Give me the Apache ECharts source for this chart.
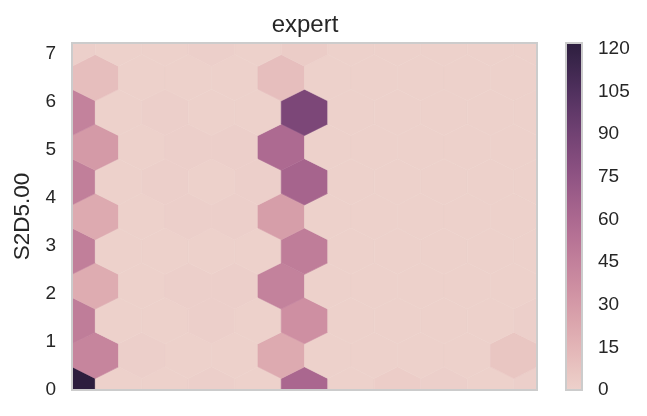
<!DOCTYPE html>
<html>
<head>
<meta charset="utf-8">
<script src="https://cdn.jsdelivr.net/npm/echarts@6/dist/echarts.min.js"></script>
<style type="text/css">
    html, body { margin: 0; padding: 0; background: #fff; }
    div.mychart { width: 647px; height: 416px; }
</style>
</head>
<body>
<div id="main" class="mychart"></div>
<script>
// hexbin counts, one array per hex row from bottom (row 0) to top (row 10)
// even rows sit on whole columns (11 cells), odd rows on half columns (10 cells)
var hexRow0  = [122, 0, 0, 1, 0, 61, 0, 2, 1, 0, 1];
var hexRow1  = [42, 1, 0, 0, 21, 0, 0, 0, 0, 6];
var hexRow2  = [47, 0, 0, 1, 0, 36, 0, 0, 0, 0, 1];
var hexRow3  = [20, 0, 1, 1, 44, 0, 0, 0, 0, 0];
var hexRow4  = [46, 0, 0, 0, 0, 47, 0, 0, 0, 0, 0];
var hexRow5  = [21, 0, 1, 1, 28, 0, 0, 0, 0, 0];
var hexRow6  = [46, 0, 1, 0, 1, 63, 0, 0, 0, 0, 0];
var hexRow7  = [30, 0, 1, 1, 59, 0, 0, 0, 0, 0];
var hexRow8  = [44, 0, 1, 0, 0, 85, 0, 0, 0, 0, 0];
var hexRow9  = [10, 0, 0, 0, 10, 0, 0, 0, 0, 0];
var hexRow10 = [1, 0, 0, 1, 0, 3, 0, 0, 0, 0, 0];
var hexRows = [hexRow0, hexRow1, hexRow2, hexRow3, hexRow4, hexRow5,
               hexRow6, hexRow7, hexRow8, hexRow9, hexRow10];

var xCols = 10;          // x extent in hex widths
var yMax = 7.22;         // y extent of the plot
var yTicks = [0, 1, 2, 3, 4, 5, 6, 7];
var cbarMax = 122;
var cbarTicks = [0, 15, 30, 45, 60, 75, 90, 105, 120];

// seaborn cubehelix_palette(as_cmap=True)
function cubehelix(t) {
    var x = 0.85 + (0.15 - 0.85) * t;
    var a = 0.8 * x * (1 - x) / 2;
    var phi = 2 * Math.PI * (0.4 * x);
    var c = Math.cos(phi), s = Math.sin(phi);
    var rgb = [
        x + a * (-0.14861 * c + 1.78277 * s),
        x + a * (-0.29227 * c - 0.90649 * s),
        x + a * (1.97294 * c)
    ].map(function (v) { return Math.round(Math.max(0, Math.min(1, v)) * 255); });
    return "rgb(" + rgb.join(",") + ")";
}
var paletteColors = [];
var gradientStops = [];
for (var k = 0; k <= 20; k++) {
    paletteColors.push(cubehelix(k / 20));
    gradientStops.push({ offset: k / 20, color: cubehelix(k / 20) });
}

var rowStep = yMax / 10;
var hexData = [];
hexRows.forEach(function (row, j) {
    row.forEach(function (count, i) {
        hexData.push([j % 2 === 0 ? i : i + 0.5, j * rowStep, count]);
    });
});

// pointy-top hexagon in data units (width 1, height 4/3 of the row step)
var sy = 2 * rowStep;
var hexShape = [[0.5, -sy / 6], [0.5, sy / 6], [0, sy / 3],
                [-0.5, sy / 6], [-0.5, -sy / 6], [0, -sy / 3]];

var textColor = "#262626";
var fontName = "Liberation Sans";

var myChart = echarts.init(document.getElementById("main"));
var option = {
    animation: false,
    title: {
        text: "expert",
        left: 300,
        top: 8,
        textAlign: "center",
        textStyle: { color: textColor, fontFamily: fontName, fontSize: 24, fontWeight: "normal" }
    },
    grid: [
        { left: 72, top: 43, width: 465, height: 347, show: true,
          borderColor: "#cccccc", borderWidth: 2, z: 5 },
        { left: 566, top: 43, width: 16, height: 347, show: true,
          borderColor: "#cccccc", borderWidth: 2, z: 5 }
    ],
    xAxis: [
        { type: "value", gridIndex: 0, min: 0, max: xCols,
          axisLine: { show: false }, axisTick: { show: false },
          axisLabel: { show: false }, splitLine: { show: false } },
        { type: "value", gridIndex: 1, min: 0, max: 1,
          axisLine: { show: false }, axisTick: { show: false },
          axisLabel: { show: false }, splitLine: { show: false } }
    ],
    yAxis: [
        { type: "value", gridIndex: 0, min: 0, max: yMax, interval: 1,
          name: "S2D5.00", nameLocation: "middle", nameGap: 36,
          nameTextStyle: { color: textColor, fontFamily: fontName, fontSize: 22.5 },
          axisLine: { show: false }, axisTick: { show: false }, splitLine: { show: false },
          axisLabel: { color: textColor, fontFamily: fontName, fontSize: 19, margin: 16,
                       showMaxLabel: false,
                       formatter: function (v) { return yTicks.indexOf(v) >= 0 ? String(v) : ""; } } },
        { type: "value", gridIndex: 1, min: 0, max: cbarMax, interval: 15, position: "right",
          axisLine: { show: false }, axisTick: { show: false }, splitLine: { show: false },
          axisLabel: { color: textColor, fontFamily: fontName, fontSize: 19, margin: 16,
                       showMaxLabel: false,
                       formatter: function (v) { return cbarTicks.indexOf(v) >= 0 ? String(v) : ""; } } }
    ],
    visualMap: {
        type: "continuous",
        show: false,
        seriesIndex: 0,
        dimension: 2,
        min: 0,
        max: cbarMax,
        inRange: { color: paletteColors }
    },
    series: [
        {
            type: "custom",
            xAxisIndex: 0,
            yAxisIndex: 0,
            clip: true,
            z: 1,
            data: hexData,
            renderItem: function (params, api) {
                var cx = api.value(0), cy = api.value(1);
                var pts = hexShape.map(function (o) { return api.coord([cx + o[0], cy + o[1]]); });
                var color = api.visual("color");
                return {
                    type: "polygon",
                    shape: { points: pts },
                    style: { fill: color, stroke: color, lineWidth: 0.6 }
                };
            }
        },
        {
            type: "custom",
            xAxisIndex: 1,
            yAxisIndex: 1,
            z: 1,
            data: [[0, cbarMax]],
            renderItem: function (params, api) {
                var p0 = api.coord([0, 0]);
                var p1 = api.coord([1, api.value(1)]);
                return {
                    type: "rect",
                    shape: { x: p0[0], y: p1[1], width: p1[0] - p0[0], height: p0[1] - p1[1] },
                    style: { fill: { type: "linear", x: 0, y: 1, x2: 0, y2: 0, colorStops: gradientStops } }
                };
            }
        }
    ]
};
myChart.setOption(option);
</script>
</body>
</html>
